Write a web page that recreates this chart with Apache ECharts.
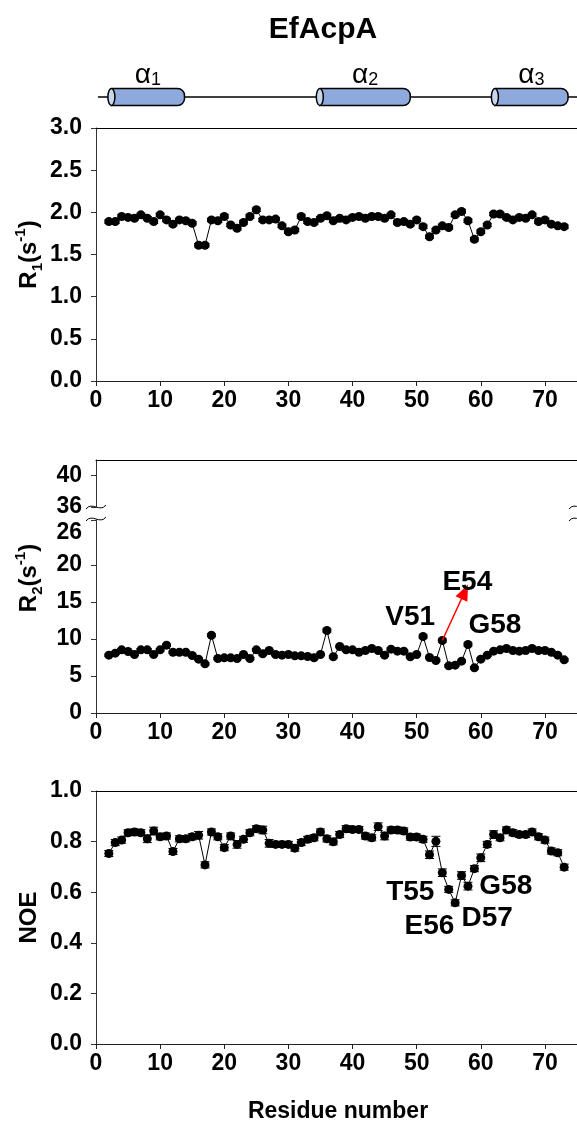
<!DOCTYPE html>
<html><head><meta charset="utf-8">
<script src="https://cdn.jsdelivr.net/npm/echarts@6/dist/echarts.min.js"></script>
<style>html,body{margin:0;padding:0;background:#fff}#c{width:577px;height:1127px}</style>
</head><body><div id="c"></div>
<script>
// ---------------- data ----------------
const residues = [2,3,4,5,6,7,8,9,10,11,12,13,14,15,16,17,18,19,20,21,22,23,24,25,26,27,28,29,30,31,32,33,34,35,36,37,38,39,40,41,42,43,44,45,46,47,48,49,50,51,52,53,54,55,56,57,58,59,60,61,62,63,64,65,66,67,68,69,70,71,72,73];
const r1 = [1.89,1.89,1.95,1.94,1.93,1.97,1.93,1.89,1.97,1.91,1.86,1.91,1.90,1.87,1.61,1.61,1.91,1.90,1.95,1.85,1.81,1.88,1.95,2.03,1.91,1.91,1.92,1.84,1.77,1.79,1.95,1.89,1.88,1.93,1.96,1.90,1.93,1.91,1.94,1.95,1.93,1.95,1.95,1.93,1.97,1.88,1.89,1.86,1.91,1.83,1.71,1.79,1.84,1.82,1.97,2.01,1.90,1.68,1.77,1.85,1.98,1.98,1.94,1.91,1.94,1.93,1.97,1.89,1.91,1.86,1.84,1.83];
const r1Err = [0.02,0.02,0.02,0.02,0.02,0.02,0.02,0.02,0.02,0.02,0.02,0.02,0.02,0.02,0.02,0.02,0.02,0.02,0.02,0.02,0.02,0.02,0.02,0.02,0.02,0.02,0.02,0.02,0.02,0.02,0.02,0.02,0.02,0.02,0.02,0.02,0.02,0.02,0.02,0.02,0.02,0.02,0.02,0.02,0.02,0.02,0.02,0.02,0.02,0.02,0.02,0.02,0.02,0.02,0.02,0.02,0.02,0.02,0.02,0.02,0.02,0.02,0.02,0.02,0.02,0.02,0.02,0.02,0.02,0.02,0.02,0.02];
const r2 = [7.82,8.09,8.54,8.31,7.91,8.54,8.54,7.91,8.54,9.17,8.22,8.22,8.22,7.78,7.28,6.65,10.52,7.37,7.46,7.46,7.37,7.91,7.37,8.54,8.00,8.45,7.91,7.82,7.91,7.73,7.73,7.64,7.46,7.91,11.15,7.60,8.99,8.54,8.54,8.22,8.45,8.72,8.45,7.82,8.63,8.36,8.36,7.60,7.91,10.34,7.51,7.10,9.80,6.38,6.47,7.01,9.26,6.11,7.28,7.82,8.36,8.54,8.72,8.45,8.36,8.45,8.72,8.45,8.45,8.22,7.82,7.19];
const r2Err = [0.15,0.15,0.15,0.15,0.15,0.15,0.15,0.15,0.15,0.15,0.15,0.15,0.15,0.15,0.15,0.15,0.2,0.15,0.15,0.15,0.15,0.15,0.15,0.15,0.15,0.15,0.15,0.15,0.15,0.15,0.15,0.15,0.15,0.15,0.2,0.15,0.15,0.15,0.15,0.15,0.15,0.15,0.15,0.15,0.15,0.15,0.15,0.15,0.15,0.2,0.15,0.15,0.2,0.15,0.15,0.15,0.2,0.15,0.15,0.15,0.15,0.15,0.15,0.15,0.15,0.15,0.15,0.15,0.15,0.15,0.15,0.15];
const noe = [0.753,0.796,0.806,0.835,0.838,0.835,0.811,0.842,0.819,0.822,0.761,0.811,0.811,0.819,0.825,0.708,0.838,0.819,0.776,0.822,0.789,0.809,0.835,0.851,0.846,0.793,0.789,0.789,0.789,0.774,0.796,0.809,0.815,0.838,0.811,0.799,0.828,0.851,0.848,0.848,0.822,0.815,0.859,0.822,0.846,0.846,0.842,0.818,0.818,0.809,0.748,0.801,0.677,0.611,0.558,0.666,0.624,0.693,0.736,0.789,0.828,0.815,0.846,0.835,0.828,0.828,0.838,0.819,0.806,0.763,0.756,0.699];
const noeErr = [0.012,0.012,0.012,0.012,0.012,0.012,0.015,0.015,0.012,0.012,0.012,0.012,0.012,0.012,0.015,0.012,0.012,0.012,0.012,0.012,0.015,0.012,0.012,0.012,0.015,0.015,0.012,0.012,0.012,0.012,0.012,0.012,0.012,0.012,0.012,0.012,0.012,0.012,0.012,0.012,0.012,0.012,0.015,0.015,0.012,0.012,0.012,0.012,0.012,0.012,0.015,0.02,0.015,0.012,0.012,0.015,0.015,0.012,0.015,0.012,0.015,0.012,0.012,0.012,0.012,0.012,0.012,0.012,0.012,0.012,0.012,0.012];
// secondary structure: [label subscript, start residue, end residue]
const helices = [['1', 2.4, 13.8], ['2', 34.9, 49.0], ['3', 62.2, 73.6]];
const backbone = [0.3, 75];
const r2Notes = [['E54', 57.9, 17.7], ['V51', 49.0, 13.0], ['G58', 62.2, 11.9]];
const r2Arrow = [[54, 9.8], [57.5, 16.4]];
const noeNotes = [['T55', 49.0, 0.60], ['E56', 52.0, 0.467], ['D57', 61.0, 0.498], ['G58', 63.9, 0.625]];
const xTicks = [0, 10, 20, 30, 40, 50, 60, 70];
const r1Ticks = [0, 0.5, 1.0, 1.5, 2.0, 2.5, 3.0];
const r2UpperTicks = [36, 40];
const r2LowerTicks = [0, 5, 10, 15, 20, 26];
const noeTicks = [0, 0.2, 0.4, 0.6, 0.8, 1.0];

// ---------------- layout ----------------
const FF = '"Liberation Sans", Arial, sans-serif';
const L = 96, GW = 483;
const P1 = {top: 128, h: 253};
const P2U = {top: 460, h: 47};
const P2L = {top: 520, h: 193};
const P3 = {top: 791, h: 253};

const chart = echarts.init(document.getElementById('c'), null, {renderer: 'canvas'});

const lblFont = {fontSize: 23, fontWeight: 'bold', fontFamily: FF, color: '#000'};
function xAx(gi, labels) {
  return {type: 'value', gridIndex: gi, min: 0, max: 75, position: 'bottom',
    axisLine: {show: true, onZero: false, lineStyle: {color: '#222', width: 1}},
    axisTick: {show: labels, length: 5, customValues: xTicks, lineStyle: {color: '#222'}},
    axisLabel: Object.assign({show: labels, customValues: xTicks, margin: 8}, lblFont),
    splitLine: {show: false}};
}
function xTop(gi) {
  return {type: 'value', gridIndex: gi, min: 0, max: 75, position: 'top',
    axisLine: {show: true, onZero: false, lineStyle: {color: '#000', width: 1}},
    axisTick: {show: false}, axisLabel: {show: false}, splitLine: {show: false}};
}
function yAx(gi, min, max, ticks, fmt, rich) {
  const lab = Object.assign({customValues: ticks, margin: 14, formatter: fmt}, lblFont);
  if (rich) lab.rich = rich;
  return {type: 'value', gridIndex: gi, min: min, max: max,
    axisLine: {show: true, onZero: false, lineStyle: {color: '#333', width: 1}},
    axisTick: {show: true, length: 5, customValues: ticks, lineStyle: {color: '#333'}},
    axisLabel: lab,
    splitLine: {show: false}};
}
const f1 = v => v.toFixed(1);
const f0 = v => String(Math.round(v));
// the top label of the lower R2 segment sits just under the break
const fLow = v => (v === 26 ? '{d|26}' : String(Math.round(v)));
const lowRich = {d: Object.assign({padding: [24, 0, 0, 0]}, lblFont)};

function pairs(ys) { return residues.map((r, i) => [r, ys[i]]); }
function errs(ys, es) { return residues.map((r, i) => [r, ys[i], es[i]]); }

function errSeries(xi, yi, ys, es) {
  return {type: 'custom', xAxisIndex: xi, yAxisIndex: yi, z: 3, silent: true,
    data: errs(ys, es),
    renderItem: function (params, api) {
      const x = api.value(0), y = api.value(1), e = api.value(2);
      const t = api.coord([x, y + e]), b = api.coord([x, y - e]);
      const hw = 4.5;
      const st = {stroke: '#000', lineWidth: 1};
      return {type: 'group', children: [
        {type: 'line', shape: {x1: t[0], y1: t[1], x2: b[0], y2: b[1]}, style: st},
        {type: 'line', shape: {x1: t[0] - hw, y1: t[1], x2: t[0] + hw, y2: t[1]}, style: st},
        {type: 'line', shape: {x1: b[0] - hw, y1: b[1], x2: b[0] + hw, y2: b[1]}, style: st}
      ]};
    }};
}
function lineSeries(xi, yi, ys, extra) {
  return Object.assign({type: 'line', xAxisIndex: xi, yAxisIndex: yi, z: 4, silent: true,
    data: pairs(ys), symbol: 'circle', symbolSize: 9, showSymbol: true,
    itemStyle: {color: '#000'}, lineStyle: {color: '#000', width: 1}, animation: false}, extra || {});
}
function noteSeries(xi, yi, notes) {
  return {type: 'custom', xAxisIndex: xi, yAxisIndex: yi, z: 6, silent: true,
    data: notes.map(n => [n[1], n[2]]),
    renderItem: function (params, api) {
      const p = api.coord([api.value(0), api.value(1)]);
      return {type: 'text', x: p[0], y: p[1],
        style: {text: notes[params.dataIndex][0], align: 'center', verticalAlign: 'middle',
          font: 'bold 28px ' + FF, fill: '#000'}};
    }};
}

const option = {
  animation: false,
  backgroundColor: '#fff',
  grid: [
    {left: L, width: GW, top: 80, height: 34},
    {left: L, width: GW, top: P1.top, height: P1.h},
    {left: L, width: GW, top: P2U.top, height: P2U.h},
    {left: L, width: GW, top: P2L.top, height: P2L.h},
    {left: L, width: GW, top: P3.top, height: P3.h}
  ],
  xAxis: [
    {type: 'value', gridIndex: 0, min: 0, max: 75, show: false},
    xAx(1, true), xTop(1),
    xTop(2),
    xAx(3, true),
    xAx(4, true), xTop(4)
  ],
  yAxis: [
    {type: 'value', gridIndex: 0, min: 0, max: 1, show: false},
    yAx(1, 0, 3, r1Ticks, f1),
    yAx(2, 36, 42, r2UpperTicks, f0),
    yAx(3, 0, 26.1, r2LowerTicks, fLow, lowRich),
    yAx(4, 0, 1, noeTicks, f1)
  ],
  series: [
    {type: 'line', xAxisIndex: 0, yAxisIndex: 0, silent: true, symbol: 'none', z: 1,
      data: [[backbone[0], 0.5], [backbone[1], 0.5]], lineStyle: {color: '#000', width: 1.5}},
    {type: 'custom', xAxisIndex: 0, yAxisIndex: 0, z: 2, silent: true,
      data: helices.map(h => [h[1], h[2]]),
      renderItem: function (params, api) {
        const s = api.coord([api.value(0), 0.5]), e = api.coord([api.value(1), 0.5]);
        const sub = helices[params.dataIndex][0];
        const h = 17;
        return {type: 'group', children: [
          {type: 'rect', shape: {x: s[0], y: s[1] - h / 2, width: e[0] - s[0], height: h, r: [0, 7, 7, 0]},
            style: {fill: '#8EA9DB', stroke: '#000', lineWidth: 1.5}},
          {type: 'ellipse', shape: {cx: s[0], cy: s[1], rx: 3.5, ry: h / 2},
            style: {fill: '#C9D6EE', stroke: '#000', lineWidth: 1.5}},
          {type: 'text', x: (s[0] + e[0]) / 2, y: s[1] - h / 2 + 1,
            style: {text: '{a|α}{s|' + sub + '}', align: 'center', verticalAlign: 'bottom',
              rich: {a: {fontSize: 28, fontFamily: FF, fill: '#000', lineHeight: 28, verticalAlign: 'top'},
                     s: {fontSize: 18, fontFamily: FF, fill: '#000', lineHeight: 18, verticalAlign: 'bottom'}}}}
        ]};
      }},
    errSeries(1, 1, r1, r1Err),
    lineSeries(1, 1, r1),
    errSeries(4, 3, r2, r2Err),
    lineSeries(4, 3, r2, {
      markLine: {silent: true, symbol: ['none', 'triangle'], symbolSize: [13, 16], label: {show: false},
        lineStyle: {color: '#ff0000', width: 1.5, type: 'solid'},
        data: [[{coord: r2Arrow[0]}, {coord: r2Arrow[1]}]]}
    }),
    noteSeries(4, 3, r2Notes),
    errSeries(5, 4, noe, noeErr),
    lineSeries(5, 4, noe),
    noteSeries(5, 4, noeNotes)
  ]
};
chart.setOption(option);

// titles, axis names and break marks (decorations)
const sub = {fontSize: 15, fontWeight: 'bold', fontFamily: FF, fill: '#000', verticalAlign: 'bottom', lineHeight: 15};
const sup = {fontSize: 15, fontWeight: 'bold', fontFamily: FF, fill: '#000', verticalAlign: 'top', lineHeight: 15};
const big = {fontSize: 24, fontWeight: 'bold', fontFamily: FF, fill: '#000', lineHeight: 32};
function yName(text, cy) {
  return {type: 'text', x: 29, y: cy, rotation: Math.PI / 2, z: 10,
    style: {text: text, align: 'center', verticalAlign: 'middle', rich: {b: big, s: sub, p: sup}}};
}
function breakMark(x, y) {
  return {type: 'bezierCurve', z: 10, shape: {x1: x - 10, y1: y + 2, cpx1: x - 4, cpy1: y - 6, cpx2: x + 4, cpy2: y + 6, x2: x + 10, y2: y - 2},
    style: {stroke: '#000', lineWidth: 1, fill: null}};
}
const yBreakTop = P2U.top + P2U.h, yBreakBot = P2L.top;
chart.setOption({graphic: [
  {type: 'text', x: 323, y: 30, z: 10, style: {text: 'EfAcpA', align: 'center', verticalAlign: 'middle',
    font: 'bold 30px ' + FF, fill: '#000'}},
  yName('{b|R}{s|1}{b|(s}{p|-1}{b|)}', P1.top + P1.h / 2),
  yName('{b|R}{s|2}{b|(s}{p|-1}{b|)}', 578),
  yName('{b|NOE}', P3.top + P3.h / 2),
  {type: 'text', x: 338, y: 1112, z: 10, style: {text: 'Residue number', align: 'center', verticalAlign: 'middle',
    font: 'bold 23px ' + FF, fill: '#000'}},
  breakMark(L, yBreakTop), breakMark(L, yBreakBot - 1),
  breakMark(L + GW, yBreakTop), breakMark(L + GW, yBreakBot - 1)
]});
</script>
</body></html>
